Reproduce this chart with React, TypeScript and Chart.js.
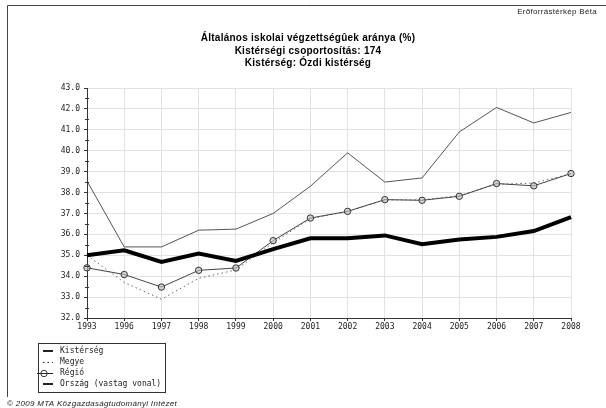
import React, { useEffect, useRef } from 'react';
import { Chart, registerables } from 'chart.js';
Chart.register(...registerables);

const years = ['1993', '1996', '1997', '1998', '1999', '2000', '2001', '2002', '2003', '2004', '2005', '2006', '2007', '2008'];
const kisterseg = [38.55, 35.4, 35.4, 36.2, 36.25, 37.0, 38.3, 39.9, 38.5, 38.7, 40.9, 42.07, 41.33, 41.83];
const megye = [35.0, 33.7, 32.9, 33.9, 34.3, 35.6, 36.75, 37.1, 37.65, 37.65, 37.85, 38.4, 38.45, 38.9];
const regio = [34.4, 34.08, 33.48, 34.28, 34.39, 35.7, 36.78, 37.1, 37.66, 37.63, 37.82, 38.43, 38.32, 38.91];
const orszag = [35.0, 35.24, 34.68, 35.08, 34.73, 35.29, 35.81, 35.81, 35.95, 35.53, 35.75, 35.88, 36.16, 36.83];

const titleLines = ['Általános iskolai végzettségûek aránya (%)', 'Kistérségi csoportosítás: 174', 'Kistérség: Ózdi kistérség'];
const legendLabels = ['Kistérség', 'Megye', 'Régió', 'Ország (vastag vonal)'];
const topRightText = 'Erőforrástérkép Béta';
const footerText = '© 2009 MTA Közgazdaságtudományi Intézet';

const MONO = '8px "DejaVu Sans Mono", monospace';

function spaced(ctx: any, px: number) {
  try { ctx.letterSpacing = px + 'px'; } catch (e) { /* ignore */ }
}

const decor = {
  id: 'decor',
  beforeDraw(chart: any) {
    const ctx = chart.ctx;
    ctx.save();
    ctx.fillStyle = '#fff';
    ctx.fillRect(0, 0, chart.width, chart.height);
    ctx.restore();
  },
  afterDraw(chart: any) {
    const ctx = chart.ctx;
    const ca = chart.chartArea;
    ctx.save();
    // frame
    ctx.strokeStyle = '#444';
    ctx.lineWidth = 1;
    ctx.beginPath();
    ctx.moveTo(7.5, 397);
    ctx.lineTo(7.5, 5.5);
    ctx.lineTo(606, 5.5);
    ctx.stroke();
    // top right
    ctx.fillStyle = '#222';
    ctx.font = '8px "Liberation Sans", Arial, sans-serif';
    spaced(ctx, 0.3);
    ctx.textAlign = 'right';
    ctx.textBaseline = 'middle';
    ctx.fillText(topRightText, 597, 12);
    // title
    ctx.font = 'bold 10px "Liberation Sans", Arial, sans-serif';
    spaced(ctx, 0.25);
    ctx.textAlign = 'center';
    ctx.fillStyle = '#000';
    titleLines.forEach((t, i) => ctx.fillText(t, 308, 38.5 + i * 12.5));
    spaced(ctx, 0);
    // minor ticks
    const ys = chart.scales.y;
    ctx.strokeStyle = '#333';
    ctx.beginPath();
    for (let v = 32.5; v < 43; v += 1) {
      const y = Math.round(ys.getPixelForValue(v)) + 0.5;
      ctx.moveTo(ca.left - 2, y);
      ctx.lineTo(ca.left + 2, y);
    }
    ctx.stroke();
    // legend box
    const bx = 38, by = 343, bw = 127, bh = 49;
    ctx.strokeStyle = '#333';
    ctx.strokeRect(bx + 0.5, by + 0.5, bw, bh);
    ctx.font = MONO;
    ctx.textAlign = 'left';
    ctx.fillStyle = '#222';
    legendLabels.forEach((t, i) => {
      const y = by + 8 + i * 11;
      ctx.fillText(t, bx + 22, y);
      ctx.save();
      ctx.strokeStyle = '#222';
      ctx.lineWidth = i === 0 || i === 3 ? 2 : 1;
      if (i === 1) {
        ctx.setLineDash([1.5, 3]);
      }
      ctx.beginPath();
      const x0 = i === 2 ? bx - 1 : bx + 5;
      const yy = i === 0 || i === 3 ? Math.round(y) : Math.round(y) + 0.5;
      ctx.moveTo(x0, yy);
      ctx.lineTo(bx + 15, yy);
      ctx.stroke();
      ctx.restore();
      if (i === 2) {
        ctx.beginPath();
        ctx.arc(bx + 6, Math.round(y) + 0.5, 3.2, 0, Math.PI * 2);
        ctx.stroke();
      }
    });
    // footer
    ctx.font = 'italic 8px "Liberation Sans", Arial, sans-serif';
    spaced(ctx, 0.3);
    ctx.fillStyle = '#222';
    ctx.textAlign = 'left';
    ctx.fillText(footerText, 7, 404);
    spaced(ctx, 0);
    ctx.restore();
  },
};

export default function App() {
  const ref = useRef<HTMLCanvasElement>(null);
  useEffect(() => {
    document.body.style.margin = '0';
    const chart = new Chart(ref.current as HTMLCanvasElement, {
      type: 'line',
      data: {
        labels: years,
        datasets: [
          { label: legendLabels[0], data: kisterseg, borderColor: '#555', borderWidth: 1, pointRadius: 0, order: 3, fill: false, tension: 0 },
          { label: legendLabels[1], data: megye, borderColor: '#666', borderWidth: 1, borderDash: [1.5, 3], pointRadius: 0, order: 2, fill: false, tension: 0 },
          { label: legendLabels[2], data: regio, borderColor: '#444', borderWidth: 1, pointRadius: 3.2, pointBorderColor: '#333', pointBackgroundColor: 'rgba(190,190,190,0.6)', pointBorderWidth: 1, order: 1, fill: false, tension: 0 },
          { label: legendLabels[3], data: orszag, borderColor: '#000', borderWidth: 4, pointRadius: 0, order: 0, fill: false, tension: 0 },
        ],
      },
      options: {
        animation: false,
        responsive: false,
        events: [],
        layout: { padding: { top: 88, right: 35, left: 0, bottom: 0 } },
        plugins: { legend: { display: false }, title: { display: false }, tooltip: { enabled: false } },
        scales: {
          x: {
            grid: { color: '#e2e2e2', lineWidth: 1, tickLength: 3, tickColor: '#333', drawOnChartArea: true },
            border: { color: '#333', width: 1 },
            ticks: { font: { family: '"DejaVu Sans Mono", monospace', size: 8 }, color: '#222', padding: 1, maxRotation: 0, autoSkip: false },
            afterFit: (s: any) => { s.height = 90; },
          },
          y: {
            min: 32,
            max: 43,
            grid: { color: '#e2e2e2', lineWidth: 1, tickLength: 3, tickColor: '#333' },
            border: { color: '#333', width: 1 },
            ticks: { stepSize: 1, font: { family: '"DejaVu Sans Mono", monospace', size: 8 }, color: '#222', padding: 4, callback: (v: any) => Number(v).toFixed(1) },
            afterFit: (s: any) => { s.width = 87; },
          },
        },
      },
      plugins: [decor],
    });
    return () => chart.destroy();
  }, []);
  return (
    <div style={{ width: 606, height: 408, background: '#fff' }}>
      <canvas ref={ref} width={606} height={408} style={{ display: 'block' }} />
    </div>
  );
}
